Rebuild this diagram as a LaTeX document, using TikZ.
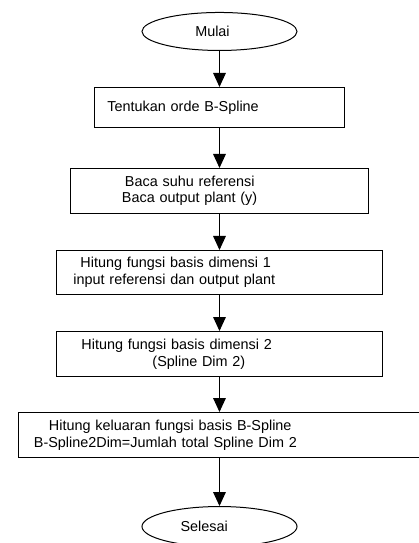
\documentclass[tikz,border=0pt]{standalone}
\usepackage{fontspec}
\setmainfont{Liberation Sans}
\usetikzlibrary{positioning, shapes.geometric, arrows.meta}

\begin{document}
\begin{tikzpicture}[
        node distance=27pt,
        font=\fontsize{10.8pt}{12.4pt}\selectfont,
        terminal/.style={draw, ellipse, inner sep=0pt, minimum width=116.25pt, line width=0.75pt},
        box/.style={draw, rectangle, inner sep=0pt, align=left, line width=0.75pt},
        arrow/.style={-{Triangle[width=9.5pt, length=10.5pt]}, line width=0.75pt}
    ]
        \useasboundingbox (-164.6pt,23.6pt) rectangle (149.6pt,-383.6pt);

        % Nodes
        \node[terminal, minimum height=28.5pt] (mulai) {Mulai\hspace*{10.5pt}};

        \node[box, below=of mulai, text width=187.5pt, minimum height=30pt] (orde)
            {\hspace*{9.75pt}Tentukan orde B-Spline};
        \node[box, below=30pt of orde, text width=222.75pt, minimum height=33.75pt] (baca)
            {\hspace*{40.5pt}Baca suhu referensi\\\hspace*{38.25pt}Baca output plant (y)};
        \node[box, below=of baca, text width=244.5pt, minimum height=33pt] (dim1)
            {\hspace*{18pt}Hitung fungsi basis dimensi 1\\\hspace*{12.75pt}input referensi dan output plant};
        \node[box, below=of dim1, text width=244.5pt, minimum height=33.75pt] (dim2)
            {\hspace*{18.75pt}Hitung fungsi basis dimensi 2\\\hspace*{72pt}(Spline Dim 2)};
        \node[box, below=26.25pt of dim2, text width=300.75pt, minimum height=33.75pt] (keluaran)
            {\hspace*{22.5pt}Hitung keluaran fungsi basis B-Spline\\\hspace*{11.25pt}B-Spline2Dim=Jumlah total Spline Dim 2};

        \node[terminal, below=36pt of keluaran, minimum height=30pt] (selesai) {Selesai\hspace*{23pt}};

        % Paths
        \draw[arrow] (mulai) -- (orde);
        \draw[arrow] (orde) -- (baca);
        \draw[arrow] (baca) -- (dim1);
        \draw[arrow] (dim1) -- (dim2);
        \draw[arrow] (dim2) -- (keluaran);
        \draw[arrow] (keluaran) -- (selesai);

\end{tikzpicture}
\end{document}
